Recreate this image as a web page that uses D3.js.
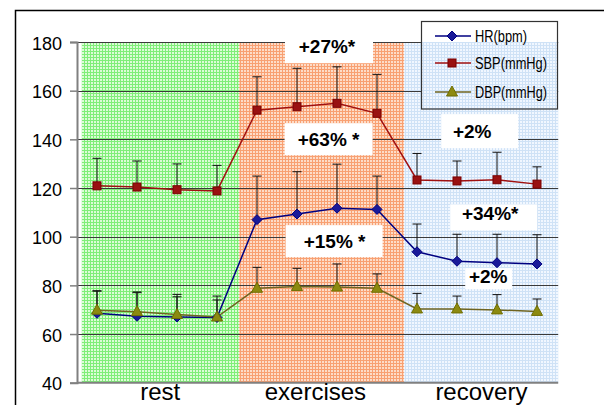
<!DOCTYPE html>
<html>
<head>
<meta charset="utf-8">
<script src="https://cdn.jsdelivr.net/npm/d3@7"></script>
<style>
  body { margin: 0; background: #fff; }
  svg { display: block; font-family: "Liberation Sans", Arial, sans-serif; }
</style>
</head>
<body>
<svg id="chart" width="604" height="405"></svg>
<script>
// 12 measurements: 4 rest, 4 exercises, 4 recovery
const points = d3.range(12);
const phases = ["rest", "exercises", "recovery"];
// phase background spans, in point index units
const phaseStart = [-0.38, 3.55, 7.68];
const phaseEnd = [3.55, 7.68, 11.53];
const phaseLabelAt = [1.58, 5.46, 9.61];

const yTicks = [40, 60, 80, 100, 120, 140, 160, 180];

const hrMean = [68.5, 67.3, 67.0, 66.8, 107.0, 109.3, 111.7, 111.2, 93.8, 89.9, 89.3, 88.8];
const hrSD = [9.3, 10.0, 8.3, 7.2, 17.9, 17.4, 18.1, 13.7, 11.4, 11.1, 11.7, 12.0];
const sbpMean = [120.9, 120.4, 119.3, 118.8, 152.0, 153.4, 154.8, 150.7, 123.3, 122.9, 123.4, 121.6];
const sbpSD = [11.3, 10.7, 10.6, 10.5, 13.7, 15.8, 15.0, 16.0, 10.9, 8.2, 11.3, 7.1];
const dbpMean = [69.8, 69.2, 68.0, 67.0, 78.8, 79.5, 79.3, 78.8, 70.3, 70.3, 69.9, 69.3];
const dbpSD = [7.8, 7.8, 8.3, 8.6, 8.6, 7.5, 9.5, 5.9, 6.4, 5.3, 6.3, 5.1];

// change labels: text, x (point index), y (value)
const noteText = ["+27%*", "+63% *", "+15% *", "+2%", "+34%*", "+2%"];
const noteX = [5.75, 5.79, 5.94, 9.38, 9.83, 9.78];
const noteY = [175.4, 137.2, 95.3, 140.5, 106.7, 80.9];
// white box around each label, px offsets from the text anchor [left, right, top, bottom]
const noteBox = [[-42, 46, -25, 10], [-44, 44, -23, 9], [-49, 48, -23, 9],
                 [-31, 46, -24, 10], [-40, 47, -16, 10], [-23, 24, -15, 6]];

const series = [
  {name: "HR(bpm)", mean: hrMean, sd: hrSD, color: "#000080", fill: "#1a1a99", shape: "diamond"},
  {name: "SBP(mmHg)", mean: sbpMean, sd: sbpSD, color: "#a01010", fill: "#991111", shape: "square"},
  {name: "DBP(mmHg)", mean: dbpMean, sd: dbpSD, color: "#6e6420", fill: "#8c8a10", shape: "triangle"}
];

const svg = d3.select("#chart");
const x = d3.scaleLinear().domain([-0.5, 11.5]).range([77, 557]);
const y = d3.scaleLinear().domain([40, 180]).range([382.7, 42]);

// hatch patterns for phase backgrounds
const defs = svg.append("defs");
const patCols = [["#dcfcd6", "#7fee78"], ["#fddcc8", "#f8a072"], ["#f1f7ff", "#cfe2f6"]];
patCols.forEach((c, i) => {
  const p = defs.append("pattern").attr("id", "pat" + i)
    .attr("width", 3).attr("height", 3).attr("patternUnits", "userSpaceOnUse");
  p.append("rect").attr("width", 3).attr("height", 3).attr("fill", c[0]);
  p.append("rect").attr("width", 3).attr("height", 1).attr("fill", c[1]);
  p.append("rect").attr("width", 1).attr("height", 3).attr("fill", c[1]);
});

// outer frame
svg.append("rect").attr("x", 15.5).attr("y", 10.5).attr("width", 620).attr("height", 420)
  .attr("fill", "none").attr("stroke", "#000").attr("stroke-width", 1.5);

// phase backgrounds
svg.append("g").selectAll("rect").data(phases).join("rect")
  .attr("x", (d, i) => x(phaseStart[i]))
  .attr("width", (d, i) => x(phaseEnd[i]) - x(phaseStart[i]))
  .attr("y", y(180)).attr("height", y(40) - y(180))
  .attr("fill", (d, i) => `url(#pat${i})`);

// gridlines
svg.append("g").selectAll("line").data(yTicks.filter(t => t > 40)).join("line")
  .attr("x1", x(-0.5)).attr("x2", x(phaseEnd[2]))
  .attr("y1", d => Math.round(y(d)) + 0.5).attr("y2", d => Math.round(y(d)) + 0.5)
  .attr("stroke", "#3a3a3a").attr("stroke-width", 1);

// y axis
const yAxis = svg.append("g").attr("transform", `translate(${x(-0.5)},0)`)
  .call(d3.axisLeft(y).tickValues(yTicks).tickSize(7).tickPadding(8));
yAxis.select(".domain").attr("stroke", "#808080").attr("stroke-width", 2);
yAxis.selectAll(".tick line").attr("stroke", "#808080").attr("stroke-width", 1.5);
yAxis.selectAll(".tick text").attr("font-size", 18).attr("fill", "#000")
  .attr("font-family", "Liberation Sans, Arial, sans-serif").attr("dy", 7);

// x baseline
svg.append("line").attr("x1", x(-0.5)).attr("x2", x(phaseEnd[2]))
  .attr("y1", y(40)).attr("y2", y(40)).attr("stroke", "#808080").attr("stroke-width", 2);

// phase labels
svg.append("g").selectAll("text").data(phases).join("text")
  .attr("x", (d, i) => x(phaseLabelAt[i])).attr("y", 400)
  .attr("text-anchor", "middle").attr("font-size", 24).text(d => d);

// legend background (white above the plot, hatched where it sits on recovery)
const lg = {x: 421.5, y: 21.5, w: 136, h: 87.5};
svg.append("rect").attr("x", lg.x).attr("y", lg.y).attr("width", lg.w).attr("height", lg.h).attr("fill", "#fff");
svg.append("rect").attr("x", lg.x).attr("y", y(180)).attr("width", lg.w)
  .attr("height", lg.y + lg.h - y(180)).attr("fill", "url(#pat2)");

// note boxes
const notes = svg.append("g");
notes.selectAll("rect").data(noteText).join("rect")
  .attr("x", (d, i) => x(noteX[i]) + noteBox[i][0])
  .attr("y", (d, i) => y(noteY[i]) + noteBox[i][2])
  .attr("width", (d, i) => noteBox[i][1] - noteBox[i][0])
  .attr("height", (d, i) => noteBox[i][3] - noteBox[i][2])
  .attr("fill", "#fff");

function marker(g, shape, fill, stroke) {
  if (shape === "diamond") {
    g.append("path").attr("d", "M0,-5L5,0L0,5L-5,0Z").attr("fill", fill).attr("stroke", stroke).attr("stroke-width", 1);
  } else if (shape === "square") {
    g.append("rect").attr("x", -4).attr("y", -4).attr("width", 8).attr("height", 8)
      .attr("fill", fill).attr("stroke", "#7a0000").attr("stroke-width", 1);
  } else {
    g.append("path").attr("d", "M0,-6L5.5,4L-5.5,4Z").attr("fill", fill).attr("stroke", "#6f6d00").attr("stroke-width", 1);
  }
}

// error bars (upper only)
series.forEach(s => {
  const eb = svg.append("g").attr("stroke", "#111").attr("stroke-width", 1);
  eb.selectAll("line.v").data(points).join("line").attr("class", "v")
    .attr("x1", i => x(i)).attr("x2", i => x(i))
    .attr("y1", i => y(s.mean[i])).attr("y2", i => y(s.mean[i] + s.sd[i]));
  eb.selectAll("line.c").data(points).join("line").attr("class", "c")
    .attr("x1", i => x(i) - 4.5).attr("x2", i => x(i) + 4.5)
    .attr("y1", i => y(s.mean[i] + s.sd[i])).attr("y2", i => y(s.mean[i] + s.sd[i]));
});

// lines and markers
const line = d3.line().x(i => x(i));
series.forEach(s => {
  svg.append("path").datum(points)
    .attr("d", line.y(i => y(s.mean[i])))
    .attr("fill", "none").attr("stroke", s.color).attr("stroke-width", 1.5);
});
series.forEach(s => {
  svg.append("g").selectAll("g").data(points).join("g")
    .attr("transform", i => `translate(${x(i)},${y(s.mean[i])})`)
    .each(function () { marker(d3.select(this), s.shape, s.fill, s.color); });
});

// note texts
notes.selectAll("text").data(noteText).join("text")
  .attr("x", (d, i) => x(noteX[i])).attr("y", (d, i) => y(noteY[i]))
  .attr("text-anchor", "middle").attr("font-size", 19).attr("font-weight", "bold")
  .text(d => d);

// legend
svg.append("rect").attr("x", lg.x).attr("y", lg.y).attr("width", lg.w).attr("height", lg.h)
  .attr("fill", "none").attr("stroke", "#333").attr("stroke-width", 1.2);
const legRows = [36, 63, 92];
const legLen = [52, 72, 72];
series.forEach((s, i) => {
  const row = svg.append("g").attr("transform", `translate(0,${legRows[i]})`);
  row.append("line").attr("x1", 435).attr("x2", 471).attr("stroke", s.color).attr("stroke-width", 1.5);
  marker(row.append("g").attr("transform", "translate(452,0)"), s.shape, s.fill, s.color);
  row.append("text").attr("x", 475).attr("y", 5.5).attr("font-size", 16)
    .attr("textLength", legLen[i]).attr("lengthAdjust", "spacingAndGlyphs").text(s.name);
});
</script>
</body>
</html>
